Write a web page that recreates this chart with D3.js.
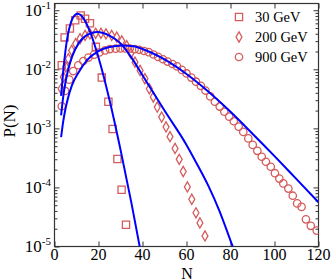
<!DOCTYPE html>
<html>
<head>
<meta charset="utf-8">
<script src="https://cdnjs.cloudflare.com/ajax/libs/d3/7.8.5/d3.min.js"></script>
<style>
	body { margin: 0; background: #fff; }
	svg text { font-family: "Liberation Serif", "Times New Roman", serif; fill: #000; }
</style>
</head>
<body>
<svg id="chart" width="332" height="280"></svg>
<script>
'use strict';

// measured points, 30 GeV (squares)
var n30 = [3.3, 4.6, 7.0, 9.4, 11.9, 13.9, 16.1, 18.8, 21.5, 24.5, 26.4, 28.6, 30.5, 32.5];
var p30 = [1.17e-2, 3.47e-2, 4.9e-2, 6.76e-2, 8.13e-2, 7.16e-2, 6.03e-2, 2.4e-2, 7.24e-3, 2.82e-3, 9.77e-4, 3.02e-4, 9.12e-5, 2.34e-5];

// measured points, 200 GeV (diamonds)
var n200 = [3.0, 4.0, 5.1, 6.3, 7.8, 9.6, 11.6, 13.9, 16.1, 18.7, 21.1, 23.4, 26.0, 28.3, 30.6, 32.8, 34.7,
	36.6, 38.9, 41.1, 43.1, 44.9, 46.7, 48.7, 50.7, 52.5, 54.8, 56.7, 58.5, 60.4, 62.4, 64.3, 66.1, 68.4];
var p200 = [4.68e-3, 7.41e-3, 1.1e-2, 1.51e-2, 2.09e-2, 2.71e-2, 3.29e-2, 3.74e-2, 3.98e-2, 4.07e-2, 4.07e-2, 3.98e-2, 3.74e-2, 3.5e-2, 3.02e-2, 2.51e-2, 1.86e-2,
	1.32e-2, 9.55e-3, 6.92e-3, 4.68e-3, 3.39e-3, 2.29e-3, 1.55e-3, 1.06e-3, 7.24e-4, 4.57e-4, 2.99e-4, 1.86e-4, 1.02e-4, 6.31e-5, 3.72e-5, 2.51e-5, 1.51e-5];

// measured points, 900 GeV (circles)
var n900 = [3.3, 4.8, 6.7, 8.5, 10.8, 13.1, 15.4, 18.0, 20.4, 23.0, 25.2, 27.8, 30.0, 32.1, 34.2, 36.4, 38.5, 40.7, 42.8,
	45.0, 47.1, 49.3, 51.4, 53.6, 55.7, 57.9, 60.0, 62.2, 64.3, 66.5, 68.6, 70.8, 72.9, 75.1, 77.2, 79.4, 81.5, 83.7,
	85.8, 88.1, 90.1, 92.2, 94.2, 96.1, 98.3, 100.2, 102.2, 104.0, 106.3, 108.3, 110.3, 112.3, 114.3, 116.5, 119.2];
var p900 = [2.37e-3, 4.3e-3, 6.68e-3, 9.33e-3, 1.17e-2, 1.38e-2, 1.58e-2, 1.77e-2, 1.93e-2, 2.09e-2, 2.2e-2, 2.23e-2, 2.26e-2, 2.26e-2, 2.24e-2, 2.19e-2, 2.14e-2, 2.04e-2, 1.95e-2,
	1.78e-2, 1.62e-2, 1.48e-2, 1.35e-2, 1.23e-2, 1.12e-2, 9.77e-3, 8.51e-3, 7.24e-3, 6.17e-3, 5.25e-3, 4.37e-3, 3.47e-3, 2.82e-3, 2.34e-3, 1.91e-3, 1.58e-3, 1.32e-3, 1.07e-3,
	8.71e-4, 6.76e-4, 5.25e-4, 4.17e-4, 3.31e-4, 2.72e-4, 2.24e-4, 1.74e-4, 1.41e-4, 1.17e-4, 9.55e-5, 7.24e-5, 5.37e-5, 4.68e-5, 2.88e-5, 2.24e-5, 1.86e-5];

// fitted curves (blue)
var fitN30 = [3, 4, 5, 6, 7, 8, 9, 10.5, 12, 13, 16, 20, 25, 30, 35, 40];
var fitP30 = [3.55e-3, 9.55e-3, 2.09e-2, 3.72e-2, 5.43e-2, 6.98e-2, 8.09e-2, 8.71e-2, 8.2e-2, 7.41e-2, 4.47e-2, 1.58e-2, 3.02e-3, 4.37e-4, 5.37e-5, 5.62e-6];
var fitN200 = [3, 4, 5, 6, 8, 11, 14, 17, 19.5, 22, 25, 30, 35, 40, 50, 60, 65, 70, 75, 80, 82];
var fitP200 = [1.66e-3, 3.51e-3, 6.03e-3, 9.12e-3, 1.64e-2, 2.77e-2, 3.65e-2, 4.12e-2, 4.27e-2, 4.12e-2, 3.72e-2, 2.75e-2, 1.58e-2, 7.94e-3, 2.0e-3, 5.25e-4, 2.4e-4, 1.05e-4, 3.98e-5, 1.26e-5, 7.94e-6];
var fitN900 = [3, 4, 5, 6, 8, 11, 15, 20, 25, 31, 36, 40, 50, 60, 70, 80, 90, 100, 110, 120];
var fitP900 = [7.08e-4, 1.34e-3, 2.15e-3, 3.12e-3, 5.43e-3, 8.91e-3, 1.46e-2, 2.04e-2, 2.39e-2, 2.54e-2, 2.45e-2, 2.21e-2, 1.47e-2, 8.32e-3, 4.17e-3, 1.91e-3, 8.13e-4, 3.39e-4, 1.38e-4, 5.62e-5];

var xTicks = [0, 20, 40, 60, 80, 100, 120];
var yTicks = [1e-5, 1e-4, 1e-3, 1e-2, 1e-1];
var yTickExp = ['-5', '-4', '-3', '-2', '-1'];
var legendLabels = ['30 GeV', '200 GeV', '900 GeV'];

var markColor = '#d45c5c';
var lineColor = '#0000ff';
var axisColor = '#333';

var svg = d3.select('#chart');

var x = d3.scaleLinear().domain([0, 120]).range([54.5, 318.5]);
var y = d3.scaleLog().domain([1e-5, 0.13]).range([246.5, 3.5]);

var yMinor = [];
yTicks.forEach(function (d) {
	for (var k = 2; k <= 9; k++) {
		if (d * k < 0.13) yMinor.push(d * k);
	}
});

svg.append('clipPath').attr('id', 'plotclip')
	.append('rect')
	.attr('x', x(0)).attr('y', y(0.13))
	.attr('width', x(120) - x(0)).attr('height', y(1e-5) - y(0.13));

// ticks on all four sides, pointing inward
function addAxis(axis, tx, ty) {
	var g = svg.append('g').attr('transform', 'translate(' + tx + ',' + ty + ')').call(axis);
	g.select('.domain').remove();
	g.selectAll('line').attr('stroke', axisColor).attr('stroke-width', 1);
	g.selectAll('text').remove();
	return g;
}
addAxis(d3.axisBottom(x).tickValues(xTicks).tickSize(-5), 0, 246.5);
addAxis(d3.axisTop(x).tickValues(xTicks).tickSize(-5), 0, 3.5);
addAxis(d3.axisLeft(y).tickValues(yTicks).tickSize(-5), 54.5, 0);
addAxis(d3.axisLeft(y).tickValues(yMinor).tickSize(-3), 54.5, 0);
addAxis(d3.axisRight(y).tickValues(yTicks).tickSize(-5), 318.5, 0);
addAxis(d3.axisRight(y).tickValues(yMinor).tickSize(-3), 318.5, 0);

svg.append('rect')
	.attr('x', x(0)).attr('y', y(0.13))
	.attr('width', x(120) - x(0)).attr('height', y(1e-5) - y(0.13))
	.attr('fill', 'none').attr('stroke', axisColor).attr('stroke-width', 1.2);

// tick labels
svg.append('g').selectAll('text').data(xTicks).enter().append('text')
	.attr('x', function (d) { return x(d); })
	.attr('y', 260)
	.attr('text-anchor', 'middle')
	.style('font-size', '16px')
	.text(function (d) { return d; });

var yl = svg.append('g').selectAll('text').data(yTicks).enter().append('text')
	.attr('x', 51)
	.attr('y', function (d) { return y(d) + 5.5; })
	.attr('text-anchor', 'end')
	.style('font-size', '17px');
yl.append('tspan').text('10');
yl.append('tspan')
	.attr('dy', -7)
	.style('font-size', '11px')
	.text(function (d, i) { return yTickExp[i]; });

svg.append('text')
	.attr('x', 187).attr('y', 278.5)
	.attr('text-anchor', 'middle')
	.style('font-size', '16px')
	.text('N');

svg.append('text')
	.attr('transform', 'translate(14.5,121) rotate(-90)')
	.attr('text-anchor', 'middle')
	.style('font-size', '17px')
	.text('P(N)');

var plot = svg.append('g').attr('clip-path', 'url(#plotclip)');

// data points
function pairs(ns, ps) {
	return ns.map(function (n, i) { return [n, ps[i]]; });
}

plot.append('g').selectAll('path').data(pairs(n30, p30)).enter().append('path')
	.attr('transform', function (d) { return 'translate(' + x(d[0]) + ',' + y(d[1]) + ')'; })
	.attr('d', d3.symbol().type(d3.symbolSquare).size(52))
	.attr('fill', 'none').attr('stroke', markColor).attr('stroke-width', 1.3);

plot.append('g').selectAll('path').data(pairs(n200, p200)).enter().append('path')
	.attr('transform', function (d) { return 'translate(' + x(d[0]) + ',' + y(d[1]) + ')'; })
	.attr('d', d3.symbol().type(d3.symbolDiamond).size(30))
	.attr('fill', 'none').attr('stroke', markColor).attr('stroke-width', 1.3);

plot.append('g').selectAll('circle').data(pairs(n900, p900)).enter().append('circle')
	.attr('cx', function (d) { return x(d[0]); })
	.attr('cy', function (d) { return y(d[1]); })
	.attr('r', 3.7)
	.attr('fill', 'none').attr('stroke', markColor).attr('stroke-width', 1.3);

// fit curves
var line = d3.line()
	.x(function (d) { return x(d[0]); })
	.y(function (d) { return y(d[1]); })
	.curve(d3.curveMonotoneX);

[pairs(fitN30, fitP30), pairs(fitN200, fitP200), pairs(fitN900, fitP900)].forEach(function (c) {
	plot.append('path')
		.attr('d', line(c))
		.attr('fill', 'none')
		.attr('stroke', lineColor)
		.attr('stroke-width', 2);
});

// legend
var leg = svg.append('g');
leg.append('path')
	.attr('transform', 'translate(239,17)')
	.attr('d', d3.symbol().type(d3.symbolSquare).size(52))
	.attr('fill', 'none').attr('stroke', markColor).attr('stroke-width', 1.3);
leg.append('path')
	.attr('transform', 'translate(239,37)')
	.attr('d', d3.symbol().type(d3.symbolDiamond).size(30))
	.attr('fill', 'none').attr('stroke', markColor).attr('stroke-width', 1.3);
leg.append('circle')
	.attr('cx', 239).attr('cy', 57).attr('r', 3.7)
	.attr('fill', 'none').attr('stroke', markColor).attr('stroke-width', 1.3);
leg.selectAll('text').data(legendLabels).enter().append('text')
	.attr('x', 255)
	.attr('y', function (d, i) { return 22 + i * 20; })
	.style('font-size', '14.5px')
	.text(function (d) { return d; });
</script>
</body>
</html>
